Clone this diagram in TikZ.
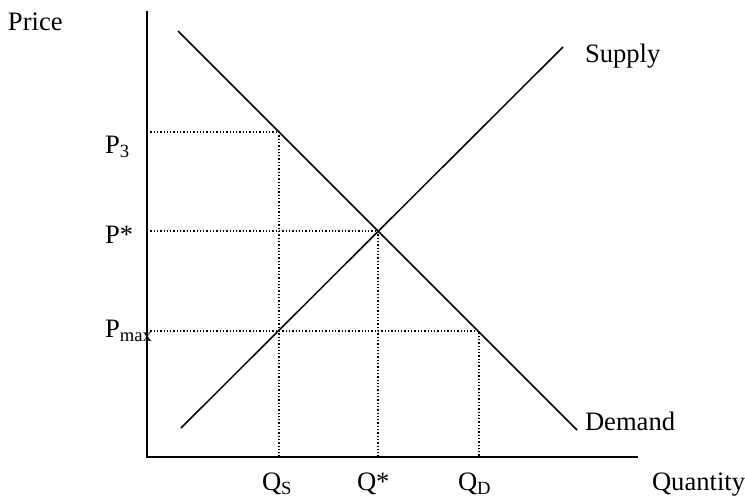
\documentclass[tikz,border=0pt]{standalone}
\usepackage{fontspec}
\setmainfont{Liberation Serif}
\usepackage{tikz}
\usetikzlibrary{positioning}

\begin{document}
\begin{tikzpicture}[
    font=\fontsize{13.3}{16}\selectfont,
    x=0.5pt,
    y=-0.5pt,
    lbl/.style={anchor=base west, inner sep=0pt, outer sep=0pt},
    axis/.style={line width=1pt, draw=black},
    curve/.style={line width=0.75pt, draw=black},
    guide/.style={line width=0.65pt, draw=black, dash pattern=on 0.65pt off 1pt}
]
\useasboundingbox (0,0) rectangle (745,498);
% axes
\coordinate (origin) at (147,457);
\coordinate (ytop) at (147,11);
\coordinate (xend) at (638,457);
\draw[axis] (ytop) -- (origin) -- (xend);
% curves
\coordinate (demtop) at (178,31);
\coordinate (dembot) at (577,430);
\coordinate (supbot) at (181,428);
\coordinate (suptop) at (563,47);
\draw[curve] (demtop) -- (dembot);
\draw[curve] (supbot) -- (suptop);
% guide lines
\coordinate (p3) at (147,132);
\coordinate (pstar) at (147,231);
\coordinate (pmax) at (147,331);
\coordinate (qs) at (279,457);
\coordinate (qstar) at (378,457);
\coordinate (qd) at (479,457);
\coordinate (ptA) at (279,132);
\coordinate (ptE) at (378,231);
\coordinate (ptC) at (479,331);
\draw[guide] (p3) -- (ptA) -- (qs);
\draw[guide] (pstar) -- (ptE) -- (qstar);
\draw[guide] (pmax) -- (ptC) -- (qd);
% labels
\node[lbl] (price) at (8,31) {Price};
\node[lbl] (quantity) at (652,490) {Quantity};
\node[lbl] (supply) at (585,62) {Supply};
\node[lbl] (demand) at (585,430) {Demand};
\node[lbl] (lp3) at (105,153) {P\textsubscript{3}};
\node[lbl] (lpstar) at (105,243) {P*};
\node[lbl] (lpmax) at (105,337) {P\textsubscript{max}};
\node[lbl] (lqs) at (262,490) {Q\textsubscript{S}};
\node[lbl] (lqstar) at (357,490) {Q*};
\node[lbl] (lqd) at (458,490) {Q\textsubscript{D}};
\end{tikzpicture}
\end{document}
